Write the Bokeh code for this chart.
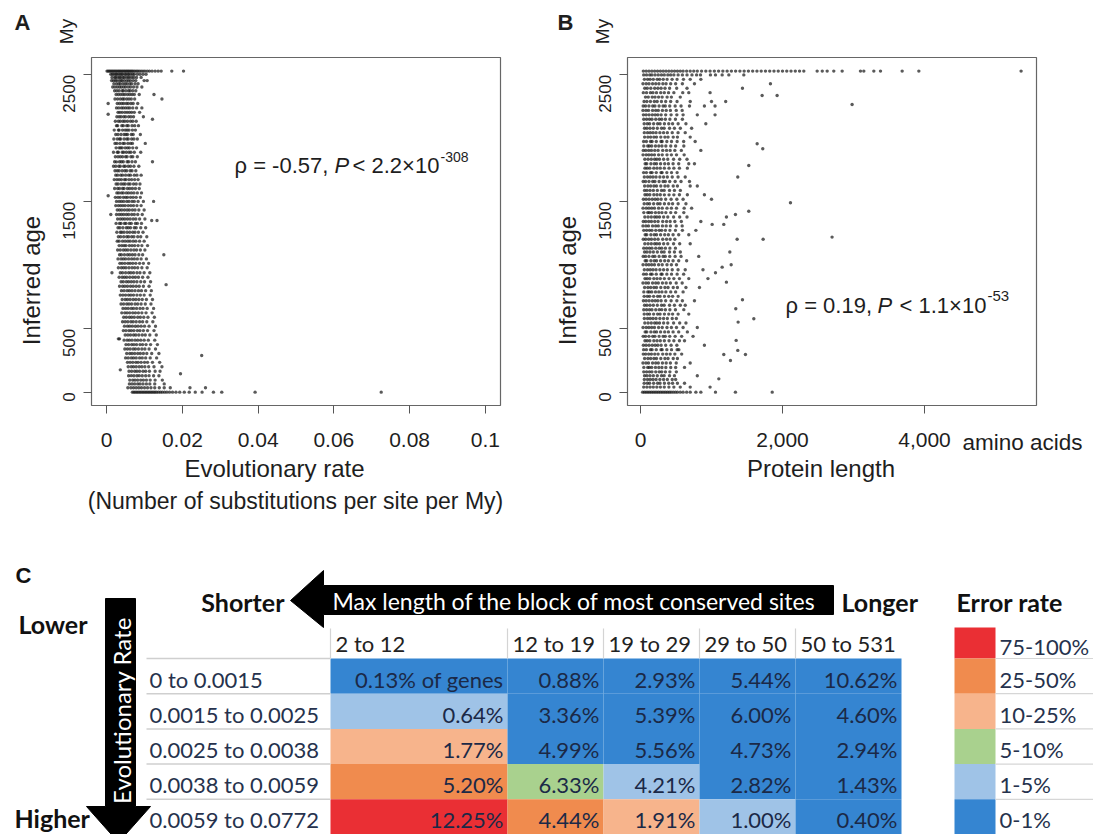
import math
from bokeh.plotting import figure
from bokeh.models import Range1d, FixedTicker, Label, LinearAxis, ColumnDataSource
from bokeh.layouts import column, row
from bokeh.embed import file_html
from bokeh.resources import INLINE
from bokeh.core.properties import value

# ---------------- data ----------------
# Panel A: inferred age levels (My) and evolutionary rates of the genes at each level
A_ages = [2530, 2505, 2480, 2455, 2430, 2405, 2375, 2345, 2310, 2275, 2240, 2205, 2190, 2170, 2150,
          2135, 2100, 2065, 2030, 1995, 1960, 1925, 1890, 1855, 1815, 1780, 1745, 1710, 1675, 1640,
          1605, 1570, 1548, 1535, 1503, 1470, 1435, 1400, 1365, 1353, 1330, 1295, 1260, 1225, 1190,
          1155, 1120, 1083, 1050, 1015, 980, 941, 905, 870, 847, 835, 800, 765, 730, 695,
          660, 625, 590, 555, 520, 485, 450, 420, 410, 375, 340, 305, 289, 270, 235,
          200, 176, 165, 145, 130, 95, 65, 35, 0]
A_rates = [
    [0.0001, 0.0004, 0.0007, 0.0010, 0.0013, 0.0016, 0.0019, 0.0022, 0.0025, 0.0028, 0.0031, 0.0034,
     0.0037, 0.0040, 0.0043, 0.0046, 0.0049, 0.0052, 0.0055, 0.0058, 0.0061, 0.0064, 0.0067, 0.0070,
     0.0074, 0.0078, 0.0082, 0.0086, 0.0091, 0.0096, 0.0101, 0.0107, 0.0113, 0.0120, 0.0128, 0.0136,
     0.0144, 0.0172, 0.0203],
    [0.0011, 0.0015, 0.0019, 0.0024, 0.0026, 0.0031, 0.0035, 0.0039, 0.0042, 0.0048, 0.0051, 0.0056,
     0.0059, 0.0064, 0.0069, 0.0073, 0.0081, 0.0088, 0.0096, 0.0104],
    [0.0014, 0.0021, 0.0024, 0.0029, 0.0034, 0.0037, 0.0043, 0.0046, 0.0052, 0.0057, 0.0061, 0.0067, 0.0072, 0.0079, 0.0091],
    [0.0013, 0.0018, 0.0023, 0.0027, 0.0033, 0.0038, 0.0041, 0.0047, 0.0053, 0.0058, 0.0063, 0.0070, 0.0077, 0.0099, 0.0107],
    [0.0019, 0.0026, 0.0032, 0.0036, 0.0043, 0.0049, 0.0054, 0.0061, 0.0066, 0.0075, 0.0083],
    [0.0016, 0.0022, 0.0028, 0.0034, 0.0039, 0.0045, 0.0050, 0.0057, 0.0063, 0.0071, 0.0080, 0.0093],
    [0.0021, 0.0027, 0.0033, 0.0041, 0.0044, 0.0051, 0.0058, 0.0062, 0.0069, 0.0077],
    [0.0025, 0.0031, 0.0037, 0.0043, 0.0048, 0.0055, 0.0061, 0.0067, 0.0073, 0.0086, 0.0125],
    [0.0022, 0.0029, 0.0036, 0.0042, 0.0046, 0.0053, 0.0059, 0.0065, 0.0074, 0.0146],
    [0.0004, 0.0028, 0.0034, 0.0040, 0.0045, 0.0052, 0.0057, 0.0064, 0.0070, 0.0082],
    [0.0026, 0.0032, 0.0039, 0.0044, 0.0050, 0.0056, 0.0061, 0.0069, 0.0079, 0.0093],
    [0.0030, 0.0035, 0.0041, 0.0048, 0.0054, 0.0060, 0.0066, 0.0073, 0.0087],
    [0.0004],
    [0.0027, 0.0033, 0.0038, 0.0045, 0.0050, 0.0058, 0.0064, 0.0071, 0.0097],
    [0.0121],
    [0.0023, 0.0031, 0.0036, 0.0043, 0.0048, 0.0055, 0.0063, 0.0069, 0.0078],
    [0.0026, 0.0029, 0.0040, 0.0044, 0.0053, 0.0057, 0.0067, 0.0074, 0.0084],
    [0.0020, 0.0031, 0.0033, 0.0042, 0.0049, 0.0054, 0.0059, 0.0068, 0.0076],
    [0.0024, 0.0030, 0.0038, 0.0046, 0.0051, 0.0055, 0.0065, 0.0070, 0.0089],
    [0.0019, 0.0028, 0.0034, 0.0037, 0.0046, 0.0053, 0.0057, 0.0066, 0.0072, 0.0081],
    [0.0022, 0.0027, 0.0035, 0.0043, 0.0047, 0.0056, 0.0063, 0.0068, 0.0102],
    [0.0025, 0.0033, 0.0037, 0.0041, 0.0049, 0.0055, 0.0060, 0.0069, 0.0079],
    [0.0018, 0.0028, 0.0031, 0.0041, 0.0045, 0.0052, 0.0059, 0.0064, 0.0073, 0.0090],
    [0.0023, 0.0030, 0.0036, 0.0042, 0.0050, 0.0054, 0.0064, 0.0069, 0.0081],
    [0.0021, 0.0026, 0.0034, 0.0039, 0.0044, 0.0054, 0.0058, 0.0067, 0.0076, 0.0121],
    [0.0018, 0.0024, 0.0032, 0.0036, 0.0045, 0.0049, 0.0057, 0.0063, 0.0072, 0.0085],
    [0.0022, 0.0028, 0.0033, 0.0041, 0.0048, 0.0053, 0.0062, 0.0067, 0.0077],
    [0.0024, 0.0029, 0.0037, 0.0042, 0.0050, 0.0058, 0.0063, 0.0073, 0.0080, 0.0091],
    [0.0020, 0.0027, 0.0033, 0.0039, 0.0047, 0.0051, 0.0059, 0.0066, 0.0074, 0.0083],
    [0.0025, 0.0030, 0.0038, 0.0044, 0.0049, 0.0057, 0.0062, 0.0071, 0.0078, 0.0088],
    [0.0021, 0.0029, 0.0034, 0.0042, 0.0046, 0.0055, 0.0061, 0.0068, 0.0076, 0.0086],
    [0.0027, 0.0032, 0.0039, 0.0044, 0.0052, 0.0058, 0.0065, 0.0072, 0.0081, 0.0092],
    [0.0004],
    [0.0023, 0.0030, 0.0036, 0.0044, 0.0050, 0.0055, 0.0063, 0.0070, 0.0078, 0.0089],
    [0.0026, 0.0033, 0.0039, 0.0045, 0.0053, 0.0059, 0.0067, 0.0073, 0.0083, 0.0097, 0.0124],
    [0.0024, 0.0031, 0.0037, 0.0043, 0.0049, 0.0057, 0.0064, 0.0071, 0.0080, 0.0091],
    [0.0028, 0.0034, 0.0040, 0.0047, 0.0054, 0.0060, 0.0068, 0.0075, 0.0085, 0.0099],
    [0.0011, 0.0026, 0.0033, 0.0039, 0.0045, 0.0052, 0.0058, 0.0066, 0.0073, 0.0082, 0.0094],
    [0.0029, 0.0036, 0.0042, 0.0048, 0.0055, 0.0062, 0.0070, 0.0077, 0.0087, 0.0101],
    [0.0119, 0.0133],
    [0.0025, 0.0034, 0.0038, 0.0047, 0.0051, 0.0060, 0.0065, 0.0076, 0.0081, 0.0092],
    [0.0030, 0.0035, 0.0043, 0.0052, 0.0057, 0.0063, 0.0073, 0.0078, 0.0090, 0.0103],
    [0.0027, 0.0036, 0.0040, 0.0046, 0.0054, 0.0061, 0.0069, 0.0075, 0.0084, 0.0096],
    [0.0031, 0.0037, 0.0045, 0.0053, 0.0058, 0.0066, 0.0072, 0.0082, 0.0090, 0.0106],
    [0.0028, 0.0033, 0.0042, 0.0049, 0.0056, 0.0062, 0.0070, 0.0077, 0.0087, 0.0099],
    [0.0033, 0.0040, 0.0046, 0.0051, 0.0060, 0.0067, 0.0074, 0.0083, 0.0093, 0.0108],
    [0.0029, 0.0036, 0.0044, 0.0050, 0.0056, 0.0064, 0.0072, 0.0079, 0.0089, 0.0101],
    [0.0034, 0.0039, 0.0047, 0.0055, 0.0061, 0.0068, 0.0075, 0.0085, 0.0095, 0.0151],
    [0.0030, 0.0038, 0.0044, 0.0050, 0.0058, 0.0066, 0.0073, 0.0081, 0.0091, 0.0105],
    [0.0035, 0.0041, 0.0048, 0.0056, 0.0062, 0.0069, 0.0077, 0.0087, 0.0097, 0.0111],
    [0.0031, 0.0039, 0.0045, 0.0051, 0.0059, 0.0067, 0.0074, 0.0082, 0.0093, 0.0107],
    [0.0014, 0.0036, 0.0042, 0.0050, 0.0058, 0.0064, 0.0071, 0.0080, 0.0088, 0.0099, 0.0114],
    [0.0033, 0.0041, 0.0047, 0.0053, 0.0061, 0.0069, 0.0076, 0.0084, 0.0095, 0.0109],
    [0.0038, 0.0044, 0.0052, 0.0058, 0.0065, 0.0072, 0.0080, 0.0090, 0.0100, 0.0116],
    [0.0157],
    [0.0034, 0.0042, 0.0048, 0.0055, 0.0063, 0.0070, 0.0078, 0.0086, 0.0097, 0.0112],
    [0.0039, 0.0046, 0.0054, 0.0060, 0.0067, 0.0075, 0.0084, 0.0092, 0.0103, 0.0118],
    [0.0036, 0.0043, 0.0050, 0.0058, 0.0064, 0.0071, 0.0080, 0.0089, 0.0099, 0.0115],
    [0.0041, 0.0049, 0.0055, 0.0062, 0.0070, 0.0077, 0.0085, 0.0094, 0.0105, 0.0121],
    [0.0038, 0.0045, 0.0053, 0.0059, 0.0066, 0.0075, 0.0082, 0.0091, 0.0102, 0.0117],
    [0.0043, 0.0050, 0.0057, 0.0065, 0.0071, 0.0079, 0.0088, 0.0096, 0.0107, 0.0124],
    [0.0040, 0.0048, 0.0054, 0.0061, 0.0069, 0.0076, 0.0084, 0.0093, 0.0104, 0.0120],
    [0.0045, 0.0052, 0.0060, 0.0066, 0.0073, 0.0082, 0.0089, 0.0098, 0.0109, 0.0126],
    [0.0042, 0.0049, 0.0056, 0.0064, 0.0070, 0.0078, 0.0087, 0.0095, 0.0106, 0.0122],
    [0.0047, 0.0055, 0.0061, 0.0068, 0.0076, 0.0083, 0.0091, 0.0100, 0.0112, 0.0129],
    [0.0044, 0.0051, 0.0059, 0.0065, 0.0072, 0.0081, 0.0088, 0.0097, 0.0108, 0.0125],
    [0.0049, 0.0056, 0.0063, 0.0071, 0.0077, 0.0085, 0.0094, 0.0102, 0.0114, 0.0131],
    [0.0031, 0.0034],
    [0.0046, 0.0054, 0.0060, 0.0067, 0.0075, 0.0082, 0.0090, 0.0099, 0.0110, 0.0127],
    [0.0051, 0.0058, 0.0066, 0.0072, 0.0079, 0.0088, 0.0095, 0.0104, 0.0116, 0.0134],
    [0.0048, 0.0055, 0.0062, 0.0070, 0.0076, 0.0084, 0.0093, 0.0101, 0.0112, 0.0129],
    [0.0053, 0.0061, 0.0067, 0.0074, 0.0082, 0.0089, 0.0097, 0.0106, 0.0119, 0.0138],
    [0.0251],
    [0.0050, 0.0057, 0.0065, 0.0071, 0.0078, 0.0087, 0.0094, 0.0103, 0.0115, 0.0132],
    [0.0055, 0.0062, 0.0069, 0.0077, 0.0083, 0.0091, 0.0100, 0.0108, 0.0121, 0.0140],
    [0.0057, 0.0065, 0.0071, 0.0078, 0.0086, 0.0093, 0.0101, 0.0111, 0.0125, 0.0146],
    [0.0036],
    [0.0059, 0.0066, 0.0074, 0.0080, 0.0087, 0.0096, 0.0103, 0.0113, 0.0128, 0.0141],
    [0.0195],
    [0.0058, 0.0065, 0.0072, 0.0080, 0.0086, 0.0094, 0.0103, 0.0112, 0.0124, 0.0138],
    [0.0061, 0.0069, 0.0075, 0.0082, 0.0090, 0.0097, 0.0105, 0.0115, 0.0128, 0.0147],
    [0.0060, 0.0067, 0.0074, 0.0082, 0.0088, 0.0096, 0.0105, 0.0114, 0.0127, 0.0152],
    [0.0056, 0.0064, 0.0071, 0.0078, 0.0085, 0.0092, 0.0100, 0.0108, 0.0117, 0.0127, 0.0139, 0.0152,
     0.0168, 0.0220, 0.0261],
    [0.0068, 0.0072, 0.0076, 0.0080, 0.0084, 0.0088, 0.0092, 0.0096, 0.0100, 0.0104, 0.0108, 0.0112,
     0.0116, 0.0120, 0.0124, 0.0128, 0.0132, 0.0137, 0.0142, 0.0147, 0.0153, 0.0159, 0.0166, 0.0174,
     0.0183, 0.0193, 0.0205, 0.0218, 0.0234, 0.0252, 0.0282, 0.0304, 0.0392, 0.0725],
]

# Panel B: inferred age levels (My) and protein lengths (amino acids) at each level
B_ages = [2530, 2500, 2465, 2430, 2395, 2360, 2338, 2325, 2290, 2267,
          2255, 2220, 2185, 2150, 2115, 2080, 2045, 2010, 1975, 1957,
          1940, 1918, 1905, 1870, 1835, 1800, 1786, 1765, 1730, 1695,
          1660, 1625, 1590, 1555, 1520, 1492, 1485, 1450, 1426, 1415,
          1400, 1380, 1345, 1322, 1310, 1275, 1240, 1222, 1205, 1170,
          1135, 1104, 1070, 1035, 1004, 985, 965, 941, 930, 895,
          867, 860, 825, 790, 755, 728, 720, 685, 657, 650,
          615, 580, 578, 552, 545, 510, 475, 440, 408, 405,
          370, 335, 329, 300, 297, 265, 250, 230, 195, 160,
          130, 105, 100, 70, 40, 0]
B_lengths = [
    [40, 80, 120, 160, 200, 240, 280, 320, 360, 400, 440, 480, 520, 560, 600, 650, 700, 750, 800,
     860, 920, 980, 1040, 1100, 1160, 1220, 1280, 1340, 1400, 1460, 1520, 1580, 1640, 1700, 1760,
     1820, 1880, 1940, 2000, 2060, 2120, 2180, 2240, 2300, 2488, 2560, 2629, 2722, 2840, 3098,
     3145, 3286, 3380, 3685, 3920, 5360],
    [45, 85, 130, 160, 205, 250, 295, 335, 385, 425, 470, 530, 590, 655, 725, 790, 845, 985, 1056,
     1150, 1244, 1455],
    [55, 100, 135, 180, 235, 270, 320, 375, 445, 515, 605, 700, 850],
    [35, 80, 120, 170, 215, 260, 315, 360, 425, 495, 590, 760, 1830],
    [60, 95, 145, 200, 245, 290, 345, 410, 510, 655, 1436],
    [40, 85, 140, 175, 225, 285, 335, 395, 470, 595, 680, 980],
    [1713, 1924],
    [70, 110, 165, 205, 255, 305, 375, 435, 560],
    [50, 90, 140, 195, 235, 295, 355, 425, 515, 700, 1000, 1200],
    [2980],
    # 2255 .. 1957
    [38, 71, 119, 172, 203, 262, 318, 349, 412, 488, 571, 690, 900, 1050],
    [35, 77, 113, 170, 214, 251, 309, 362, 421, 503, 587],
    [41, 79, 121, 166, 207, 244, 291, 355, 431, 512, 600, 800, 1050],
    [46, 86, 126, 161, 215, 264, 299, 351, 414, 492, 590],
    [52, 96, 128, 185, 241, 276, 337, 398, 452, 530, 640, 920],
    [57, 91, 134, 181, 237, 296, 333, 409, 478, 561, 720],
    [54, 99, 137, 176, 219, 273, 325, 378, 447, 529, 630],
    [58, 104, 143, 189, 225, 286, 344, 388, 461, 520, 700],
    [44, 83, 141, 163, 222, 289, 305, 371, 437, 516, 608, 770],
    [1643],
    # 1940 .. 1695
    [47, 102, 124, 158, 211, 258, 302, 357, 426, 495, 610],
    [1722],
    [39, 73, 115, 154, 201, 248, 313, 367, 418, 484, 575, 850],
    [36, 81, 118, 157, 197, 255, 306, 373, 435, 507, 615],
    [61, 107, 152, 199, 230, 268, 326, 384, 466, 552, 655],
    [66, 88, 146, 194, 226, 283, 341, 393, 459, 538, 680, 760],
    [1525],
    [63, 94, 131, 188, 233, 279, 336, 402, 470, 548, 660],
    [44, 83, 141, 163, 222, 289, 305, 371, 437, 516],
    [54, 99, 137, 176, 219, 273, 325, 378, 447, 529, 630, 1370],
    # 1660 .. 1415
    [38, 71, 119, 172, 203, 262, 318, 349, 412, 488, 571, 690],
    [58, 104, 143, 189, 225, 286, 344, 388, 461, 520, 700, 800],
    [57, 91, 134, 181, 237, 296, 333, 409, 478, 561],
    [63, 94, 131, 188, 233, 279, 336, 402, 470, 548, 660, 900],
    [41, 79, 121, 166, 207, 244, 291, 355, 431, 512, 600, 1000],
    [2112],
    [52, 96, 128, 185, 241, 276, 337, 398, 452, 530, 640],
    [36, 81, 118, 157, 197, 255, 306, 373, 435, 507, 615, 720],
    [1525],
    [47, 102, 124, 158, 211, 258, 302, 357, 426, 495, 610],
    # 1400 .. 1170
    [1337],
    [61, 107, 152, 199, 230, 268, 326, 384, 466, 552, 655, 1210],
    [39, 73, 115, 154, 201, 248, 313, 367, 418, 484, 575, 850],
    [1009, 1173],
    [35, 77, 113, 170, 214, 251, 309, 362, 421, 503, 587],
    [46, 86, 126, 161, 215, 264, 299, 351, 414, 492, 590, 780],
    [66, 88, 146, 194, 226, 283, 341, 393, 459, 538, 680],
    [2698],
    [39, 73, 115, 154, 201, 248, 313, 367, 418, 484, 1361, 1727],
    [61, 107, 152, 199, 230, 268, 326, 384, 466, 552, 700],
    # 1135 .. 895
    [46, 86, 126, 161, 215, 264, 299, 351, 414, 492],
    [57, 91, 134, 181, 237, 296, 333, 409, 478, 561, 1258],
    [38, 71, 119, 172, 203, 262, 318, 349, 412, 488, 571, 820],
    [66, 88, 146, 194, 226, 283, 341, 393, 459, 538, 650],
    [36, 81, 118, 157, 197, 255, 306, 373, 435, 507, 1277],
    [1150],
    [54, 99, 137, 176, 219, 273, 325, 378, 447, 529, 630, 880],
    [1056],
    [44, 83, 141, 163, 222, 289, 305, 371, 437, 516, 608],
    [63, 94, 131, 188, 233, 279, 336, 402, 470, 548, 680, 950],
    # 867 .. 650
    [1210],
    [35, 77, 113, 170, 214, 251, 309, 362, 421, 503, 587],
    [58, 104, 143, 189, 225, 286, 344, 388, 461, 520, 640, 830],
    [47, 102, 124, 158, 211, 258, 302, 357, 426, 495, 600],
    [52, 96, 128, 185, 241, 276, 337, 398, 452, 530],
    [1436],
    [41, 79, 121, 166, 207, 244, 291, 355, 431, 512, 590, 760],
    [57, 91, 134, 181, 237, 296, 333, 409, 478, 561, 630],
    [1342],
    [46, 86, 126, 161, 215, 264, 299, 351, 414, 492, 610],
    # 615 .. 405
    [52, 96, 128, 185, 241, 276, 337, 398, 452, 530, 680],
    [54, 99, 137, 176, 219, 273, 325, 378, 447, 505],
    [1596],
    [1375],
    [61, 107, 152, 199, 230, 268, 326, 384, 466, 552, 640],
    [36, 81, 118, 157, 197, 255, 306, 373, 435, 507, 600, 800],
    [66, 88, 146, 194, 226, 283, 341, 393, 459, 538, 660],
    [38, 71, 119, 172, 203, 262, 318, 349, 412, 488, 580, 740],
    [1347],
    [63, 94, 131, 188, 233, 279, 336, 402, 470, 548, 620],
    # 370 .. 160
    [41, 79, 121, 166, 207, 244, 291, 355, 431, 512, 900],
    [44, 83, 141, 163, 222, 289, 305, 371, 437, 516, 540],
    [1370],
    [39, 73, 115, 154, 201, 248, 313, 367, 418, 484, 580],
    [1173, 1478],
    [58, 104, 143, 189, 225, 286, 344, 388, 461, 520],
    [1267],
    [35, 77, 113, 170, 214, 251, 309, 362, 421, 503, 700],
    [47, 102, 124, 158, 211, 258, 302, 357, 426, 495, 620],
    [46, 86, 126, 161, 215, 264, 299, 351, 414, 505],
    # 130 .. 0
    [57, 91, 134, 181, 237, 296, 333, 409, 478, 800],
    [1103],
    [54, 99, 137, 176, 219, 273, 325, 378, 447, 495],
    [52, 96, 128, 185, 241, 276, 337, 398, 452, 520, 620],
    [45, 90, 135, 180, 230, 280, 335, 400, 470, 560, 700, 980],
    [30, 55, 80, 105, 130, 155, 180, 205, 230, 255, 280, 305, 330, 355, 380, 405, 430, 460, 490,
     520, 560, 600, 650, 700, 780, 850, 1056, 1337, 1855],
]

A_xlim = (-0.004, 0.104)
B_xlim = (-183, 5577)
age_lim = (-105, 2637)
A_xticks = [0, 0.02, 0.04, 0.06, 0.08, 0.1]
A_xtick_labels = ["0", "0.02", "0.04", "0.06", "0.08", "0.1"]
B_xticks = [0, 2000, 4000]
B_xtick_labels = ["0", "2,000", "4,000"]
age_ticks = [0, 500, 1500, 2500]
age_tick_labels = ["0", "500", "1500", "2500"]

# Panel C table
len_bins = ["2 to 12", "12 to 19", "19 to 29", "29 to 50", "50 to 531"]
rate_bins = ["0 to 0.0015", "0.0015 to 0.0025", "0.0025 to 0.0038", "0.0038 to 0.0059", "0.0059 to 0.0772"]
gene_pct = [
    [0.13, 0.88, 2.93, 5.44, 10.62],
    [0.64, 3.36, 5.39, 6.00, 4.60],
    [1.77, 4.99, 5.56, 4.73, 2.94],
    [5.20, 6.33, 4.21, 2.82, 1.43],
    [12.25, 4.44, 1.91, 1.00, 0.40],
]
error_class = [
    [0, 0, 0, 0, 0],
    [1, 0, 0, 0, 0],
    [3, 0, 0, 0, 0],
    [4, 2, 1, 0, 0],
    [5, 4, 3, 1, 0],
]
error_labels = ["0-1%", "1-5%", "5-10%", "10-25%", "25-50%", "75-100%"]
error_colors = ["#3585d1", "#9fc3e7", "#a9d18e", "#f7b48c", "#f08b4e", "#ea2f34"]

# ---------------- styles ----------------
SANS = "Liberation Sans"
CAL = "Lato"
INK = "#1e1e1e"


def scatter_panel(fx0, fw, fh, box, xlim, xs, ys, xticks, xlabels, xlabel):
    """Figure whose frame fills the whole figure; the R-style box is drawn at box (page px)."""
    bl, br, bt, bb = box
    sx = (xlim[1] - xlim[0]) / (br - bl)
    sy = (age_lim[1] - age_lim[0]) / (bb - bt)
    xr = (xlim[0] - (bl - fx0) * sx, xlim[1] + (fx0 + fw - br) * sx)
    yr = (age_lim[0] - (fh - bb) * sy, age_lim[1] + bt * sy)
    p = figure(width=fw, height=fh, x_range=Range1d(*xr), y_range=Range1d(*yr),
               output_backend="svg", toolbar_location=None, min_border=0,
               x_axis_location=None, y_axis_location=None)
    p.grid.visible = False
    p.outline_line_color = None
    p.background_fill_color = "white"
    p.border_fill_color = "white"
    p.quad(left=[xlim[0]], right=[xlim[1]], bottom=[age_lim[0]], top=[age_lim[1]],
           fill_color=None, line_color="#666666", line_width=1.2)
    p.scatter(xs, ys, size=3.4, fill_color="#1a1a1a", fill_alpha=0.72, line_color=None)

    xa = LinearAxis(fixed_location=age_lim[0])
    xa.ticker = FixedTicker(ticks=xticks)
    xa.major_label_overrides = {t: l for t, l in zip(xticks, xlabels)}
    xa.axis_line_color = None
    xa.major_tick_out = 8
    xa.major_tick_in = 0
    xa.minor_tick_line_color = None
    xa.major_tick_line_color = "#555555"
    xa.major_label_standoff = 19
    xa.major_label_text_font = SANS
    xa.major_label_text_font_size = "21px"
    xa.major_label_text_color = INK
    xa.axis_label = xlabel
    xa.axis_label_text_font = SANS
    xa.axis_label_text_font_size = "24px"
    xa.axis_label_text_font_style = "normal"
    xa.axis_label_text_color = INK
    xa.axis_label_standoff = 5
    p.add_layout(xa, "below")

    ya = LinearAxis(fixed_location=xlim[0])
    ya.ticker = FixedTicker(ticks=age_ticks)
    ya.major_label_overrides = {t: l for t, l in zip(age_ticks, age_tick_labels)}
    ya.major_label_orientation = math.pi / 2
    ya.axis_line_color = None
    ya.major_tick_out = 8
    ya.major_tick_in = 0
    ya.minor_tick_line_color = None
    ya.major_tick_line_color = "#555555"
    ya.major_label_standoff = 14
    ya.major_label_text_font = SANS
    ya.major_label_text_font_size = "17px"
    ya.major_label_text_color = INK
    ya.axis_label = "Inferred age"
    ya.axis_label_text_font = SANS
    ya.axis_label_text_font_size = "24px"
    ya.axis_label_text_font_style = "normal"
    ya.axis_label_text_color = INK
    ya.axis_label_standoff = 10
    p.add_layout(ya, "left")

    def px(xp):
        return xr[0] + (xp - fx0) * sx

    def py(yp):
        return yr[1] - yp * sy

    return p, px, py


def lab(p, x, y, text, size, font=SANS, style="normal", align="left", baseline="middle",
        angle=0.0, color=INK):
    p.add_layout(Label(x=x, y=y, text=text, text_font=font, text_font_size=size,
                       text_font_style=style, text_align=align, text_baseline=baseline,
                       angle=angle, text_color=color))


def expand(levels, groups):
    xs, ys = [], []
    for lev, vals in zip(levels, groups):
        for v in vals:
            xs.append(v)
            ys.append(lev)
    return xs, ys


TOP_H = 560

# ---- Panel A ----
ax_, ay_ = expand(A_ages, A_rates)
pA, pxA, pyA = scatter_panel(0, 548, TOP_H, (91, 500, 57, 405), A_xlim, ax_, ay_,
                             A_xticks, A_xtick_labels, "Evolutionary rate")
lab(pA, pxA(295), pyA(500), "(Number of substitutions per site per My)", "23px", align="center")
lab(pA, pxA(22), pyA(22), "A", "22px", style="bold", align="center")
lab(pA, pxA(66), pyA(31), "My", "19px", align="center", angle=math.pi / 2)
lab(pA, pxA(234), pyA(165), "ρ = -0.57, ", "22px", baseline="alphabetic")
lab(pA, pxA(334), pyA(165), "P", "22px", style="italic", baseline="alphabetic")
lab(pA, pxA(352), pyA(165), "< 2.2×10", "22px", baseline="alphabetic")
lab(pA, pxA(440), pyA(156), "-308", "14px", baseline="alphabetic")

# ---- Panel B ----
bx_, by_ = expand(B_ages, B_lengths)
pB, pxB, pyB = scatter_panel(548, 545, TOP_H, (627, 1036, 57, 405), B_xlim, bx_, by_,
                             B_xticks, B_xtick_labels, "Protein length")
lab(pB, pxB(565), pyB(22), "B", "22px", style="bold", align="center")
lab(pB, pxB(602), pyB(31), "My", "19px", align="center", angle=math.pi / 2)
lab(pB, pxB(962), pyB(442), "amino acids", "22.5px")
lab(pB, pxB(785), pyB(305), "ρ = 0.19, ", "22px", baseline="alphabetic")
lab(pB, pxB(877), pyB(305), "P", "22px", style="italic", baseline="alphabetic")
lab(pB, pxB(899), pyB(305), "< 1.1×10", "22px", baseline="alphabetic")
lab(pB, pxB(987), pyB(295), "-53", "15px", baseline="alphabetic")

# ---- Panel C (page-pixel canvas) ----
C_H = 834 - TOP_H
pC = figure(width=1093, height=C_H, x_range=Range1d(0, 1093), y_range=Range1d(834, TOP_H),
            output_backend="svg", toolbar_location=None, x_axis_location=None, y_axis_location=None,
            min_border=0)
pC.grid.visible = False
pC.outline_line_color = None
pC.background_fill_color = "white"
pC.border_fill_color = "white"

col_edges = [330, 507, 603, 699, 795, 901]
row_top = 658
row_h = 35.2
lab_left = 146
TS = "22px"

cl, cr, ct, cb, cc = [], [], [], [], []
tx, ty, tt = [], [], []
for i, rbin in enumerate(rate_bins):
    for j, lbin in enumerate(len_bins):
        cl.append(col_edges[j])
        cr.append(col_edges[j + 1])
        ct.append(row_top + i * row_h)
        cb.append(row_top + (i + 1) * row_h)
        cc.append(error_colors[error_class[i][j]])
        tx.append(col_edges[j + 1] - 4)
        ty.append(row_top + (i + 0.5) * row_h + 3)
        s = "%.2f%%" % gene_pct[i][j]
        if i == 0 and j == 0:
            s += " of genes"
        tt.append(s)
pC.quad(left="l", right="r", top="t", bottom="b", fill_color="c", line_color=None,
        source=ColumnDataSource(dict(l=cl, r=cr, t=ct, b=cb, c=cc)))
pC.text(x="x", y="y", text="t", source=ColumnDataSource(dict(x=tx, y=ty, t=tt)),
        text_font=value(CAL), text_font_size=value(TS), text_align="right",
        text_baseline="middle", text_color="#1b2947")

pC.segment(x0=[lab_left] * 5, x1=[col_edges[0]] * 5,
           y0=[row_top + k * row_h for k in range(5)], y1=[row_top + k * row_h for k in range(5)],
           line_color="#cfcfcf", line_width=1.5)
pC.segment(x0=col_edges[:-1], x1=col_edges[:-1], y0=[628] * 5, y1=[row_top] * 5,
           line_color="#d4d4d4", line_width=1.2)

pC.text(x=[e + 5 for e in col_edges[:-1]], y=[643] * 5, text=len_bins,
        text_font=value(CAL), text_font_size=value(TS), text_align="left",
        text_baseline="middle", text_color="#222222")
pC.text(x=[149] * 5, y=[row_top + (k + 0.5) * row_h + 3 for k in range(5)], text=rate_bins,
        text_font=value(CAL), text_font_size=value(TS), text_align="left",
        text_baseline="middle", text_color="#26324d")

leg_tops = [627] + [row_top + k * row_h for k in range(5)]
leg_bots = leg_tops[1:] + [row_top + 5 * row_h]
leg_cols = error_colors[::-1]
leg_labs = error_labels[::-1]
pC.quad(left=[954] * 6, right=[995] * 6, top=leg_tops, bottom=leg_bots, fill_color=leg_cols,
        line_color=None)
pC.segment(x0=[995] * 5, x1=[1093] * 5, y0=leg_bots[:-1], y1=leg_bots[:-1],
           line_color="#d6d6d6", line_width=1.2)
pC.text(x=[999] * 6, y=[(a + b) / 2 + 3 for a, b in zip(leg_tops, leg_bots)], text=leg_labs,
        text_font=value(CAL), text_font_size=value(TS), text_align="left",
        text_baseline="middle", text_color="#26324d")

pC.patch(x=[290, 323, 323, 833, 833, 323, 323], y=[600, 570, 585, 585, 614, 614, 627],
         fill_color="black", line_color="black")
pC.patch(x=[105, 135, 135, 150, 118, 86, 105], y=[598, 598, 806, 806, 842, 806, 806],
         fill_color="black", line_color="black")
pC.text(x=[332], y=[600], text=["Max length of the block of most conserved sites"],
        text_font=value(CAL), text_font_size=value("23px"), text_align="left",
        text_baseline="middle", text_color="white")
pC.text(x=[121], y=[710], text=["Evolutionary Rate"], angle=math.pi / 2,
        text_font=value(CAL), text_font_size=value("24px"), text_align="center",
        text_baseline="middle", text_color="white")

pC.text(x=[284, 841, 956], y=[601, 601, 601], text=["Shorter", "Longer", "Error rate"],
        text_font=value(CAL), text_font_size=value("25px"), text_font_style="bold",
        text_align=["right", "left", "left"], text_baseline="middle", text_color="#111111")
pC.text(x=[18, 14], y=[623, 817], text=["Lower", "Higher"],
        text_font=value(CAL), text_font_size=value("25px"), text_font_style="bold",
        text_align="left", text_baseline="middle", text_color="#111111")
pC.text(x=[23], y=[575], text=["C"], text_font=value(SANS), text_font_size=value("22px"),
        text_font_style="bold", text_align="center", text_baseline="middle", text_color="#111111")

layout = column(row(pA, pB), pC)
open("out.html", "w").write(file_html(layout, INLINE))
